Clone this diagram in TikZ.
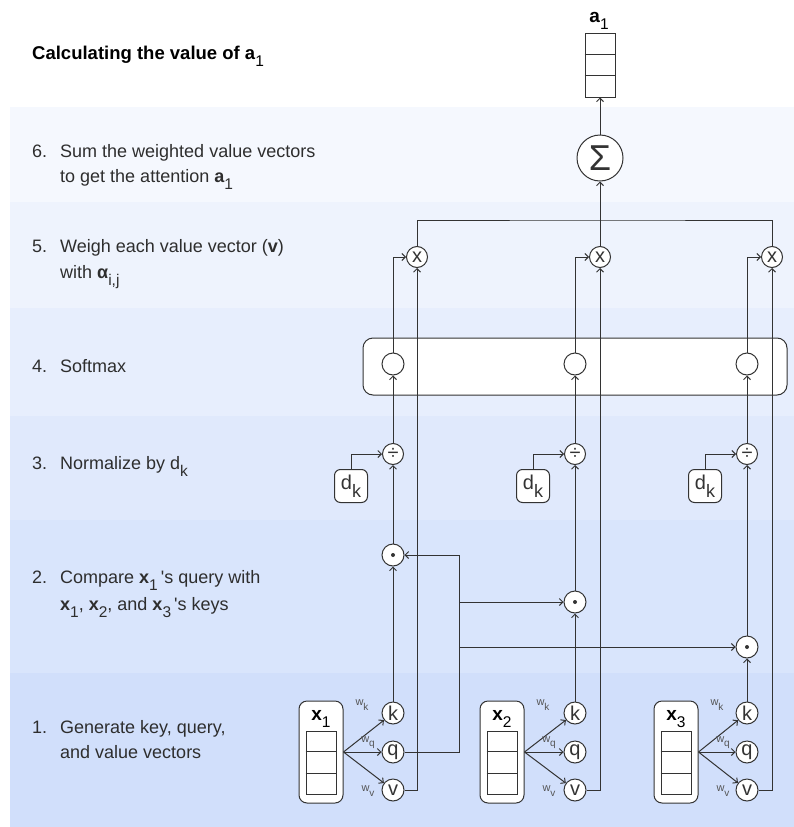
\documentclass[tikz,border=0pt]{standalone}
\usepackage{fontspec}
\setmainfont{Liberation Sans}
\usetikzlibrary{arrows.meta,calc}

\definecolor{ink}{HTML}{333333}
\definecolor{stepgray}{HTML}{2E2E2E}
\definecolor{wgray}{HTML}{555555}
\definecolor{bandsix}{HTML}{F5F8FE}
\definecolor{bandfive}{HTML}{EEF3FD}
\definecolor{bandfour}{HTML}{E7EEFD}
\definecolor{bandthree}{HTML}{E0E9FC}
\definecolor{bandtwo}{HTML}{D9E5FC}
\definecolor{bandone}{HTML}{D1DFFB}

% lowered subscript in text size
\newcommand{\lowsub}[2][15.5]{\raisebox{-0.4em}{\fontsize{#1}{#1}\selectfont #2}}

\tikzset{
  wire/.style={draw=ink, line width=1pt},
  conn/.style={wire, -{Straight Barb[length=3.5pt,width=7pt]}},
  op/.style={circle, draw=ink, fill=white, line width=1pt, inner sep=0pt,
    minimum size=22pt, text=ink, font=\fontsize{20}{20}\selectfont},
  inbox/.style={draw=ink, fill=white, line width=1pt, rounded corners=8pt,
    minimum width=44pt, minimum height=102pt},
  cellstack/.style={draw=ink, fill=white, line width=1pt,
    minimum width=30pt, minimum height=63pt, inner sep=0pt},
  dkbox/.style={draw=ink, fill=white, line width=1pt, rounded corners=6pt,
    minimum size=33pt, inner sep=0pt, text=ink, font=\fontsize{20}{20}\selectfont},
  wlab/.style={inner sep=0pt, text=wgray, font=\fontsize{11}{11}\selectfont},
  steptxt/.style={anchor=base west, inner sep=0pt, text=stepgray,
    font=\fontsize{18}{21}\selectfont},
  vlabel/.style={anchor=base, inner sep=0pt, text=black,
    font=\fontsize{19}{21}\selectfont},
}

\begin{document}
\begin{tikzpicture}[x=1pt, y=-1pt]
\useasboundingbox (0,0) rectangle (794,827);

% step bands
\fill[bandsix]   (10,107) rectangle (794,202);
\fill[bandfive]  (10,202) rectangle (794,308);
\fill[bandfour]  (10,308) rectangle (794,416);
\fill[bandthree] (10,416) rectangle (794,520);
\fill[bandtwo]   (10,520) rectangle (794,673);
\fill[bandone]   (10,673) rectangle (794,827);

% heading and step descriptions
\node[steptxt, text=black, font=\fontsize{18.5}{21}\selectfont] (title) at (32,59) {\textbf{Calculating the value of a}\lowsub{1}};

\node[steptxt] (n6) at (32,157) {6.};
\node[steptxt] (t6a) at (60,157) {Sum the weighted value vectors};
\node[steptxt] (t6b) at (60,182) {to get the attention \textbf{a}\lowsub{1}};

\node[steptxt] (n5) at (32,252) {5.};
\node[steptxt] (t5a) at (60,252) {Weigh each value vector (\textbf{v})};
\node[steptxt] (t5b) at (60,278) {with \textbf{α}\lowsub{i,j}};

\node[steptxt] (n4) at (32,372) {4.};
\node[steptxt] (t4) at (60,372) {Softmax};

\node[steptxt] (n3) at (32,469) {3.};
\node[steptxt] (t3) at (60,469) {Normalize by d\lowsub{k}};

\node[steptxt] (n2) at (32,583) {2.};
\node[steptxt] (t2a) at (60,583) {Compare \textbf{x}\lowsub{1}\,\textquotesingle s query with};
\node[steptxt] (t2b) at (60,610) {\textbf{x}\lowsub{1}, \textbf{x}\lowsub{2}, and \textbf{x}\lowsub{3}\,\textquotesingle s keys};

\node[steptxt] (n1) at (32,733) {1.};
\node[steptxt] (t1a) at (60,733) {Generate key, query,};
\node[steptxt] (t1b) at (60,758) {and value vectors};

% softmax container
\node[draw=ink, fill=white, line width=1pt, rounded corners=10pt,
  minimum width=424pt, minimum height=57pt] (softmax) at (575,366.5) {};

% output vector and sum
\node[cellstack, minimum height=64pt] (a1) at (600,65) {};
\draw[wire] ($(a1.north west)!1/3!(a1.south west)$) -- ($(a1.north east)!1/3!(a1.south east)$);
\draw[wire] ($(a1.north west)!2/3!(a1.south west)$) -- ($(a1.north east)!2/3!(a1.south east)$);
\node[vlabel] (a1lbl) at (599,22) {\textbf{a}\lowsub{1}};
\node[op, minimum size=46pt, font=\fontsize{36}{36}\selectfont] (sum) at (600,158) {Σ};

% one column per input token
\foreach \c/\nx/\bx/\dy/\vx in {1/393/321/555/417, 2/575/502/602/600, 3/747/676/647/772} {
  \node[inbox] (box\c) at (\bx,752) {};
  \node[vlabel] (xl\c) at (\bx,720) {\textbf{x}\lowsub{\c}};
  \node[cellstack] (vec\c) at (\bx,762.5) {};
  \draw[wire] ($(vec\c.north west)!1/3!(vec\c.south west)$) -- ($(vec\c.north east)!1/3!(vec\c.south east)$);
  \draw[wire] ($(vec\c.north west)!2/3!(vec\c.south west)$) -- ($(vec\c.north east)!2/3!(vec\c.south east)$);

  \node[op] (k\c) at (\nx,713) {k};
  \node[op] (q\c) at (\nx,752) {q};
  \node[op] (v\c) at (\nx,790) {v};
  \draw[conn] (box\c.east) -- (k\c);
  \draw[conn] (box\c.east) -- (q\c);
  \draw[conn] (box\c.east) -- (v\c);
  \node[wlab] (wk\c) at ({\bx+41},705) {w\lowsub[10]{k}};
  \node[wlab] (wq\c) at ({\bx+47},742.5) {w\lowsub[10]{q}};
  \node[wlab] (wv\c) at ({\bx+47},791) {w\lowsub[10]{v}};

  \node[op] (dot\c) at (\nx,\dy) {};
  \fill[ink] (dot\c) circle (2pt);
  \node[op, minimum size=21pt] (div\c) at (\nx,454) {÷};
  \node[dkbox] (dk\c) at ({\nx-42},486) {d\lowsub[18]{k}};
  \node[op] (sm\c) at (\nx,364) {};
  \node[op, minimum size=21pt] (mul\c) at (\vx,257) {x};

  \draw[conn] (k\c) -- (dot\c);
  \draw[conn] (dot\c) -- (div\c);
  \draw[conn] (dk\c.north) |- (div\c);
  \draw[conn] (div\c) -- (sm\c);
  \draw[conn] (sm\c.north) |- (mul\c);
  \draw[conn] (v\c.east) -| (mul\c.south);
}

% query of x1 compared with every key
\coordinate (qtop) at (459,555);
\draw[conn] (q1.east) -| (qtop) -- (dot1);
\draw[conn] (qtop |- dot2) -- (dot2);
\draw[conn] (qtop |- dot3) -- (dot3);

% weighted values summed into a1
\coordinate (bar) at (600,220);
\draw[wire] (mul1.north) |- (bar) -| (mul3.north);
\draw[conn] (mul2) -- (sum);
\draw[conn] (sum) -- (a1);
\end{tikzpicture}
\end{document}
